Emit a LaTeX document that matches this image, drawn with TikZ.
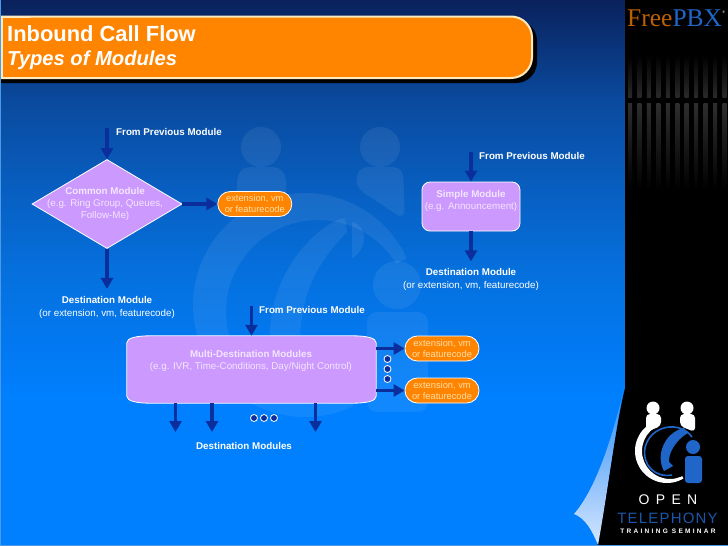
\documentclass[tikz,border=0pt]{standalone}
\usepackage{fontspec}
\setmainfont{Liberation Sans}
\newfontfamily\logoserif{Liberation Serif}
\usepackage{xcolor}
\usepackage{tikz}
\usetikzlibrary{shapes.geometric, arrows.meta, positioning}

\definecolor{slideorange}{HTML}{FF8400}
\definecolor{cream}{HTML}{FFE9BE}
\definecolor{modpurple}{HTML}{CC99FF}
\definecolor{flowblue}{HTML}{0A2F9C}
\definecolor{palepurple}{HTML}{F3E6FF}
\definecolor{paleorange}{HTML}{FFDFA8}
\definecolor{logoblue}{HTML}{1F66C8}
\definecolor{curltop}{HTML}{2A8CF5}
\definecolor{curlbottom}{HTML}{D5E6FF}
\definecolor{slideedge}{HTML}{4A9AE8}
\pgfdeclareverticalshading{slidebg}{100bp}{rgb(0bp)=(0,0.5,1); rgb(38.4bp)=(0,0.5,1); rgb(50bp)=(0.02,0.44,0.87); rgb(56.7bp)=(0.03,0.38,0.77); rgb(65.8bp)=(0.04,0.29,0.62); rgb(75bp)=(0.04,0.13,0.36); rgb(100bp)=(0.04,0.13,0.36)}

\begin{document}
\begin{tikzpicture}[x=1pt, y=-1pt]
\tikzstyle{labelbold} = [font=\fontsize{9.8}{12}\selectfont\bfseries, text=white, inner sep=0pt]
\tikzstyle{labelthin} = [font=\fontsize{9.8}{12.3}\selectfont, text=white, inner sep=0pt, align=center]
\tikzstyle{module} = [draw=white, line width=0.8pt, fill=modpurple, inner sep=0pt]
\tikzstyle{modtext} = [font=\fontsize{9.8}{12}\selectfont, text=palepurple, align=center, inner sep=0pt]
\tikzstyle{extbox} = [rectangle, draw=white, line width=0.8pt, fill=slideorange, rounded corners=12.4pt, minimum width=74pt, minimum height=25pt, inner sep=0pt, font=\fontsize{9.3}{11}\selectfont, text=paleorange, align=center]
\tikzstyle{flow} = [line width=3.4pt, flowblue, -{Triangle[width=12pt,length=11pt]}]
\tikzstyle{dotmark} = [circle, draw=white, line width=0.8pt, fill=flowblue, minimum size=7pt, inner sep=0pt]
\tikzstyle{wmark} = [white, opacity=0.07]

% slide background
\useasboundingbox (0,0) rectangle (728,546);
\shade [shading=slidebg] (0,0) rectangle (728,546);

% watermark
\fill [wmark] (261,147) circle (20);
\fill [wmark, rounded corners=12pt] (236,203) -- (238,167) -- (285,167) -- (287,203) -- cycle;
\fill [wmark] (380,147) circle (20);
\fill [wmark, rounded corners=10pt] (355,187) -- (358,167) -- (403,167) -- (405,220) -- cycle;
\begin{scope}
\clip (150,150) -- (430,150) -- (425,250) -- (305,305) -- (370,440) -- (150,440) -- cycle;
\fill [wmark, even odd rule] (305,305) circle (112) (318,312) circle (92);
\end{scope}
\fill [wmark] (345,218) .. controls (320,222) and (270,270) .. (270,335) -- (300,345) .. controls (300,290) and (320,260) .. (347,232) -- cycle;
\fill [wmark] (352,222) .. controls (368,225) and (368,250) .. (352,258) -- cycle;
\fill [wmark] (397,285) circle (24);
\fill [wmark, rounded corners=10pt] (367,412) -- (367,312) -- (428,312) -- (428,412) -- cycle;

% right panel and page curl
\fill [black] (625,0) -- (728,0) -- (728,546) -- (597,546) .. controls (608,490) and (615,430) .. (625,388) -- cycle;
\shade [top color=curltop, bottom color=curlbottom] (624,388) .. controls (615,430) and (608,490) .. (598,545) .. controls (592,530) and (585,518) .. (574,514) .. controls (595,490) and (612,440) .. (624,388) -- cycle;
\foreach \i in {0,...,10} {
  \shade [top color=black, bottom color=black!84!white] ({630+9.45*\i-2},55) rectangle ({630+9.45*\i+2},97);
  \shade [top color=black!82!white, bottom color=black] ({630+9.45*\i-2},103) rectangle ({630+9.45*\i+2},190);
}

% title bar
\fill [black, rounded corners=21pt] (-22,20) -- (537,20) -- (537,83) -- (-22,83) -- cycle;
\draw [cream, line width=2pt, fill=slideorange, rounded corners=21pt] (-22,16.5) -- (532,16.5) -- (532,78) -- (-22,78) -- cycle;
\fill [slideorange] (2.5,17.5) rectangle (30,77);
\fill [cream] (0.5,15.5) rectangle (30,17.5);
\fill [cream] (0.5,77) rectangle (30,79);
\draw [cream, line width=2pt] (1.5,16.5) -- (1.5,78);
\node (titlemain) [anchor=base west, inner sep=0pt, text=white, font=\fontsize{21.9}{24}\selectfont\bfseries] at (7,41.5) {Inbound Call Flow};
\node (titlesub) [anchor=base west, inner sep=0pt, text=white, font=\fontsize{20.2}{24}\selectfont\bfseries\itshape] at (7,65) {Types of Modules};

% common module
\node (common) [diamond, module, minimum width=150pt, minimum height=89pt] at (107,204) {};
\node (commontext) [modtext] at (105,204) {\textbf{Common Module}\\(e.g. Ring Group, Queues,\\Follow-Me)};
\coordinate [above=31pt of common] (commonin);
\coordinate [below=40pt of common] (commonout);
\node (commonfrom) [labelbold, anchor=west] at (116,132) {From Previous Module};
\node (commonext) [extbox, right=35pt of common] {extension, vm\\or featurecode};
\node (commondest) [labelthin, below=7.5pt of commonout] {\textbf{Destination Module}\\(or extension, vm, featurecode)};

% simple module
\node (simple) [rectangle, module, rounded corners=8pt, minimum width=98pt, minimum height=49pt] at (471,206.5) {};
\node (simpletext) [modtext] at (471,200.5) {\textbf{Simple Module}\\(e.g. Announcement)};
\coordinate [above=30pt of simple] (simplein);
\coordinate [below=30pt of simple] (simpleout);
\node (simplefrom) [labelbold, anchor=west] at (479,156) {From Previous Module};
\node (simpledest) [labelthin, below=7pt of simpleout] {\textbf{Destination Module}\\(or extension, vm, featurecode)};

% multi-destination module
\node (multi) [rectangle, minimum width=249pt, minimum height=67pt, inner sep=0pt] at (251.5,369.5) {};
\draw [module] ([yshift=-7pt]multi.north west) .. controls ([yshift=-2pt]multi.north west) and ([xshift=10pt]multi.north west) .. ([xshift=24pt]multi.north west)
  -- ([xshift=-24pt]multi.north east) .. controls ([xshift=-10pt]multi.north east) and ([yshift=-2pt]multi.north east) .. ([yshift=-7pt]multi.north east)
  -- ([yshift=7pt]multi.south east) .. controls ([yshift=2pt]multi.south east) and ([xshift=-10pt]multi.south east) .. ([xshift=-24pt]multi.south east)
  -- ([xshift=24pt]multi.south west) .. controls ([xshift=10pt]multi.south west) and ([yshift=2pt]multi.south west) .. ([yshift=7pt]multi.south west) -- cycle;
\node (multitext) [modtext] at (251,360.5) {\textbf{Multi-Destination Modules}\\(e.g. IVR, Time-Conditions, Day/Night Control)};
\coordinate [above=30pt of multi] (multiin);
\node (multifrom) [labelbold, anchor=west] at (259,310) {From Previous Module};
\coordinate (destone) at (175.5,432);
\coordinate (desttwo) at (212,432);
\coordinate (destthree) at (315.5,432);
\node (multidest) [labelbold] at (244,446) {Destination Modules};
\node (extone) [extbox] at (442,348.5) {extension, vm\\or featurecode};
\node (exttwo) [extbox] at (442,390.5) {extension, vm\\or featurecode};

\foreach \i in {0,1,2} {
  \node (dotdown\i) [dotmark] at ({254+10*\i},418) {};
  \node (dotside\i) [dotmark] at (387.5,{359+10*\i}) {};
}

\draw [flow] (commonin) -- (common);
\draw [flow] (common) -- (commonext);
\draw [flow] (common) -- (commonout);
\draw [flow] (simplein) -- (simple);
\draw [flow] (simple) -- (simpleout);
\draw [flow] (multiin) -- (multi);
\draw [flow] (multi.south -| destone) -- (destone);
\draw [flow] (multi.south -| desttwo) -- (desttwo);
\draw [flow] (multi.south -| destthree) -- (destthree);
\draw [flow] (multi.east |- extone) -- (extone);
\draw [flow] (multi.east |- exttwo) -- (exttwo);

% logos
\node (freepbx) [anchor=base west, inner sep=0pt, font=\logoserif\fontsize{25.5}{26}\selectfont] at (627,27) {\textcolor{orange!75!black}{Free}\textcolor{logoblue}{PBX}};
\node (freepbxmark) [anchor=base west, inner sep=0pt, text=white, font=\logoserif\fontsize{4}{4}\selectfont] at (722,13) {®};
\fill [white] (653,408) circle (6.5);
\fill [white, rounded corners=4pt] (646,432) -- (646,414) -- (661,414) -- (661,426) -- cycle;
\fill [white] (687,408) circle (6.5);
\fill [white, rounded corners=4pt] (680,426) -- (680,414) -- (695,414) -- (695,432) -- cycle;
\begin{scope}
\clip (625,425) -- (657,415) -- (668,451) -- (690,490) -- (625,490) -- cycle;
\fill [white, even odd rule] (667,451) circle (32) (670,451) circle (28);
\end{scope}
\draw [logoblue, line width=1.6pt] (692,437) .. controls (680,420) and (650,425) .. (645,448) .. controls (642,465) and (655,478) .. (672,475);
\fill [logoblue] (684,428) -- (688,433) .. controls (675,440) and (668,455) .. (669,462) -- (673,466) -- (664,471) .. controls (655,455) and (665,432) .. (684,428) -- cycle;
\fill [black] (693,447) circle (9);
\fill [logoblue] (693,447) circle (7);
\fill [logoblue, rounded corners=3pt] (685,483) -- (685,456) -- (702,456) -- (702,483) -- cycle;
\node (logoopen) [inner sep=0pt, text=white, font=\addfontfeature{LetterSpace=45}\fontsize{14}{14}\selectfont] at (668,500) {OPEN};
\node (logotele) [inner sep=0pt, text=logoblue!85!black, font=\addfontfeature{LetterSpace=8}\fontsize{15}{15}\selectfont] at (667.5,518) {TELEPHONY};
\node (logotrain) [inner sep=0pt, text=white, font=\addfontfeature{LetterSpace=35}\fontsize{6.5}{7}\selectfont\bfseries] at (668,531.5) {TRAINING SEMINAR};

% slide edge
\draw [slideedge, line width=1pt] (0.5,0) -- (0.5,545.5) -- (728,545.5);
\end{tikzpicture}
\end{document}
